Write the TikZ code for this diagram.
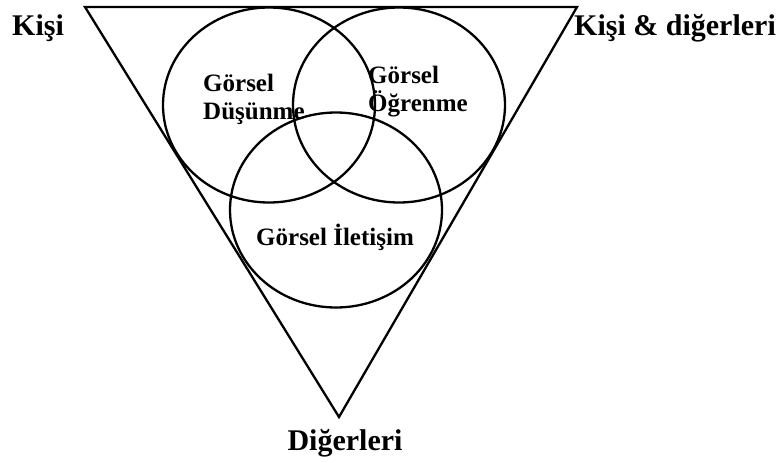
\documentclass[tikz,border=0pt]{standalone}
\usepackage{fontspec}
\setmainfont{Liberation Serif}
\usepackage{tikz}
\usetikzlibrary{shapes.geometric,positioning}

\tikzset{
    ring/.style={draw, ellipse, line width=2.3pt, inner sep=0pt, minimum width=212pt, minimum height=195pt},
    corner/.style={font=\fontsize{30}{32}\selectfont\bfseries, inner sep=0pt},
    inner/.style={font=\fontsize{25}{28}\selectfont\bfseries, inner sep=0pt, align=left}
}

\begin{document}
\begin{tikzpicture}[x=1pt, y=-1pt]
        \useasboundingbox (0,0) rectangle (779,463);

        \coordinate (TL) at (85,7);
        \coordinate (TR) at (577,7);
        \coordinate (B) at (339,417);
        \draw[line width=2.3pt, line join=miter] (TL) -- (TR) -- (B) -- cycle;

        \node (D) [ring] at (269,105) {};
        \node (O) [ring] at (399,105) {};
        \node (I) [ring] at (336,210) {};

        \node (dus) [inner, anchor=west] at (203,99) {Görsel\\Düşünme};
        \node (ogr) [inner, anchor=west] at (368,92) {Görsel\\Öğrenme};
        \node (ile) [inner, anchor=base] at (335,245) {Görsel İletişim};

        \node (kisi) [corner, anchor=base west] at (12,35) {Kişi};
        \node (kd) [corner, anchor=base east] at (776,35) {Kişi \& diğerleri};
        \node (dig) [corner, anchor=base] at (345,450) {Diğerleri};
    \end{tikzpicture}
\end{document}
